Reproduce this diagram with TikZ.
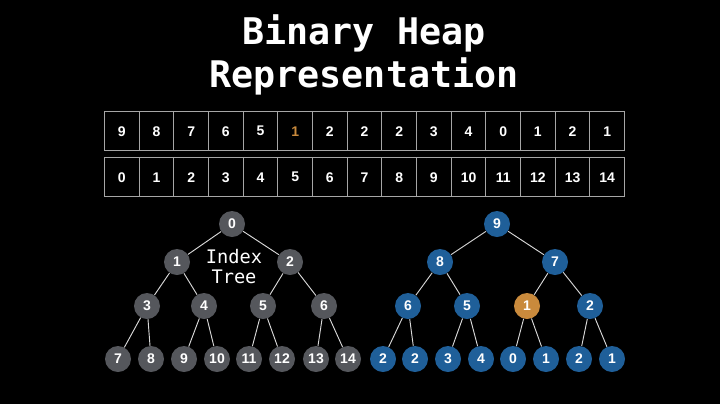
\documentclass[tikz,border=0pt]{standalone}
\usepackage{fontspec}
\setmainfont{Liberation Sans}
\newfontfamily\mono{DejaVu Sans Mono}
\begin{document}
\begin{tikzpicture}[x=0.75pt,y=-0.75pt,
  cell/.style={draw=gray!70,line width=0.8pt,minimum width=26pt,minimum height=29.5pt,inner sep=0pt,text=white,font=\bfseries\fontsize{10.5}{12}\selectfont,anchor=north west},
  g/.style={circle,fill=greyn,minimum size=19.5pt,inner sep=0pt,text=white,font=\bfseries\fontsize{10.5}{12}\selectfont},
  b/.style={g,fill=bluen},
  o/.style={g,fill=orangen},
  e/.style={draw=white!85!black,line width=0.7pt}]
\definecolor{greyn}{HTML}{55575C}
\definecolor{bluen}{HTML}{1F5F99}
\definecolor{orangen}{HTML}{C98A3C}
\fill[black] (0,0) rectangle (720,404);
\useasboundingbox (0,0) rectangle (720,404);
\node[text=white,font=\mono\bfseries\fontsize{27.5}{32}\selectfont,align=center] (title) at (364,55) {Binary Heap\\Representation};
\foreach \v [count=\i from 0] in {9,8,7,6,5,1,2,2,2,3,4,0,1,2,1}{
  \node[cell] (v\i) at ({104+\i*34.667},111) {\ifnum\i=5 \textcolor{orangen}{\v}\else\v\fi};
  \node[cell] (k\i) at ({104+\i*34.667},157) {\i};
}
% index tree
\node[g] (a0) at (232,224) {0};
\node[g] (a1) at (177,262) {1};
\node[g] (a2) at (290,262) {2};
\node[g] (a3) at (147,306) {3};
\node[g] (a4) at (204,306) {4};
\node[g] (a5) at (263,306) {5};
\node[g] (a6) at (324,306) {6};
\foreach \x [count=\i from 7] in {118,151,184,217,249,282,316,348}
  \node[g] (a\i) at (\x,359) {\i};
\node[text=white,font=\mono\fontsize{14}{15}\selectfont,align=center] (lbl) at (234,267) {Index\\Tree};
% heap tree
\node[b] (b0) at (497,224) {9};
\node[b] (b1) at (440,262) {8};
\node[b] (b2) at (555,262) {7};
\node[b] (b3) at (408,306) {6};
\node[b] (b4) at (467,306) {5};
\node[o] (b5) at (527,306) {1};
\node[b] (b6) at (590,306) {2};
\foreach \x/\v [count=\i from 7] in {383/2,415/2,448/3,481/4,513/0,546/1,579/2,612/1}
  \node[b] (b\i) at (\x,359) {\v};
\foreach \p/\c in {0/1,0/2,1/3,1/4,2/5,2/6,3/7,3/8,4/9,4/10,5/11,5/12,6/13,6/14}{
  \draw[e] (a\p) -- (a\c);
  \draw[e] (b\p) -- (b\c);
}
\end{tikzpicture}
\end{document}
